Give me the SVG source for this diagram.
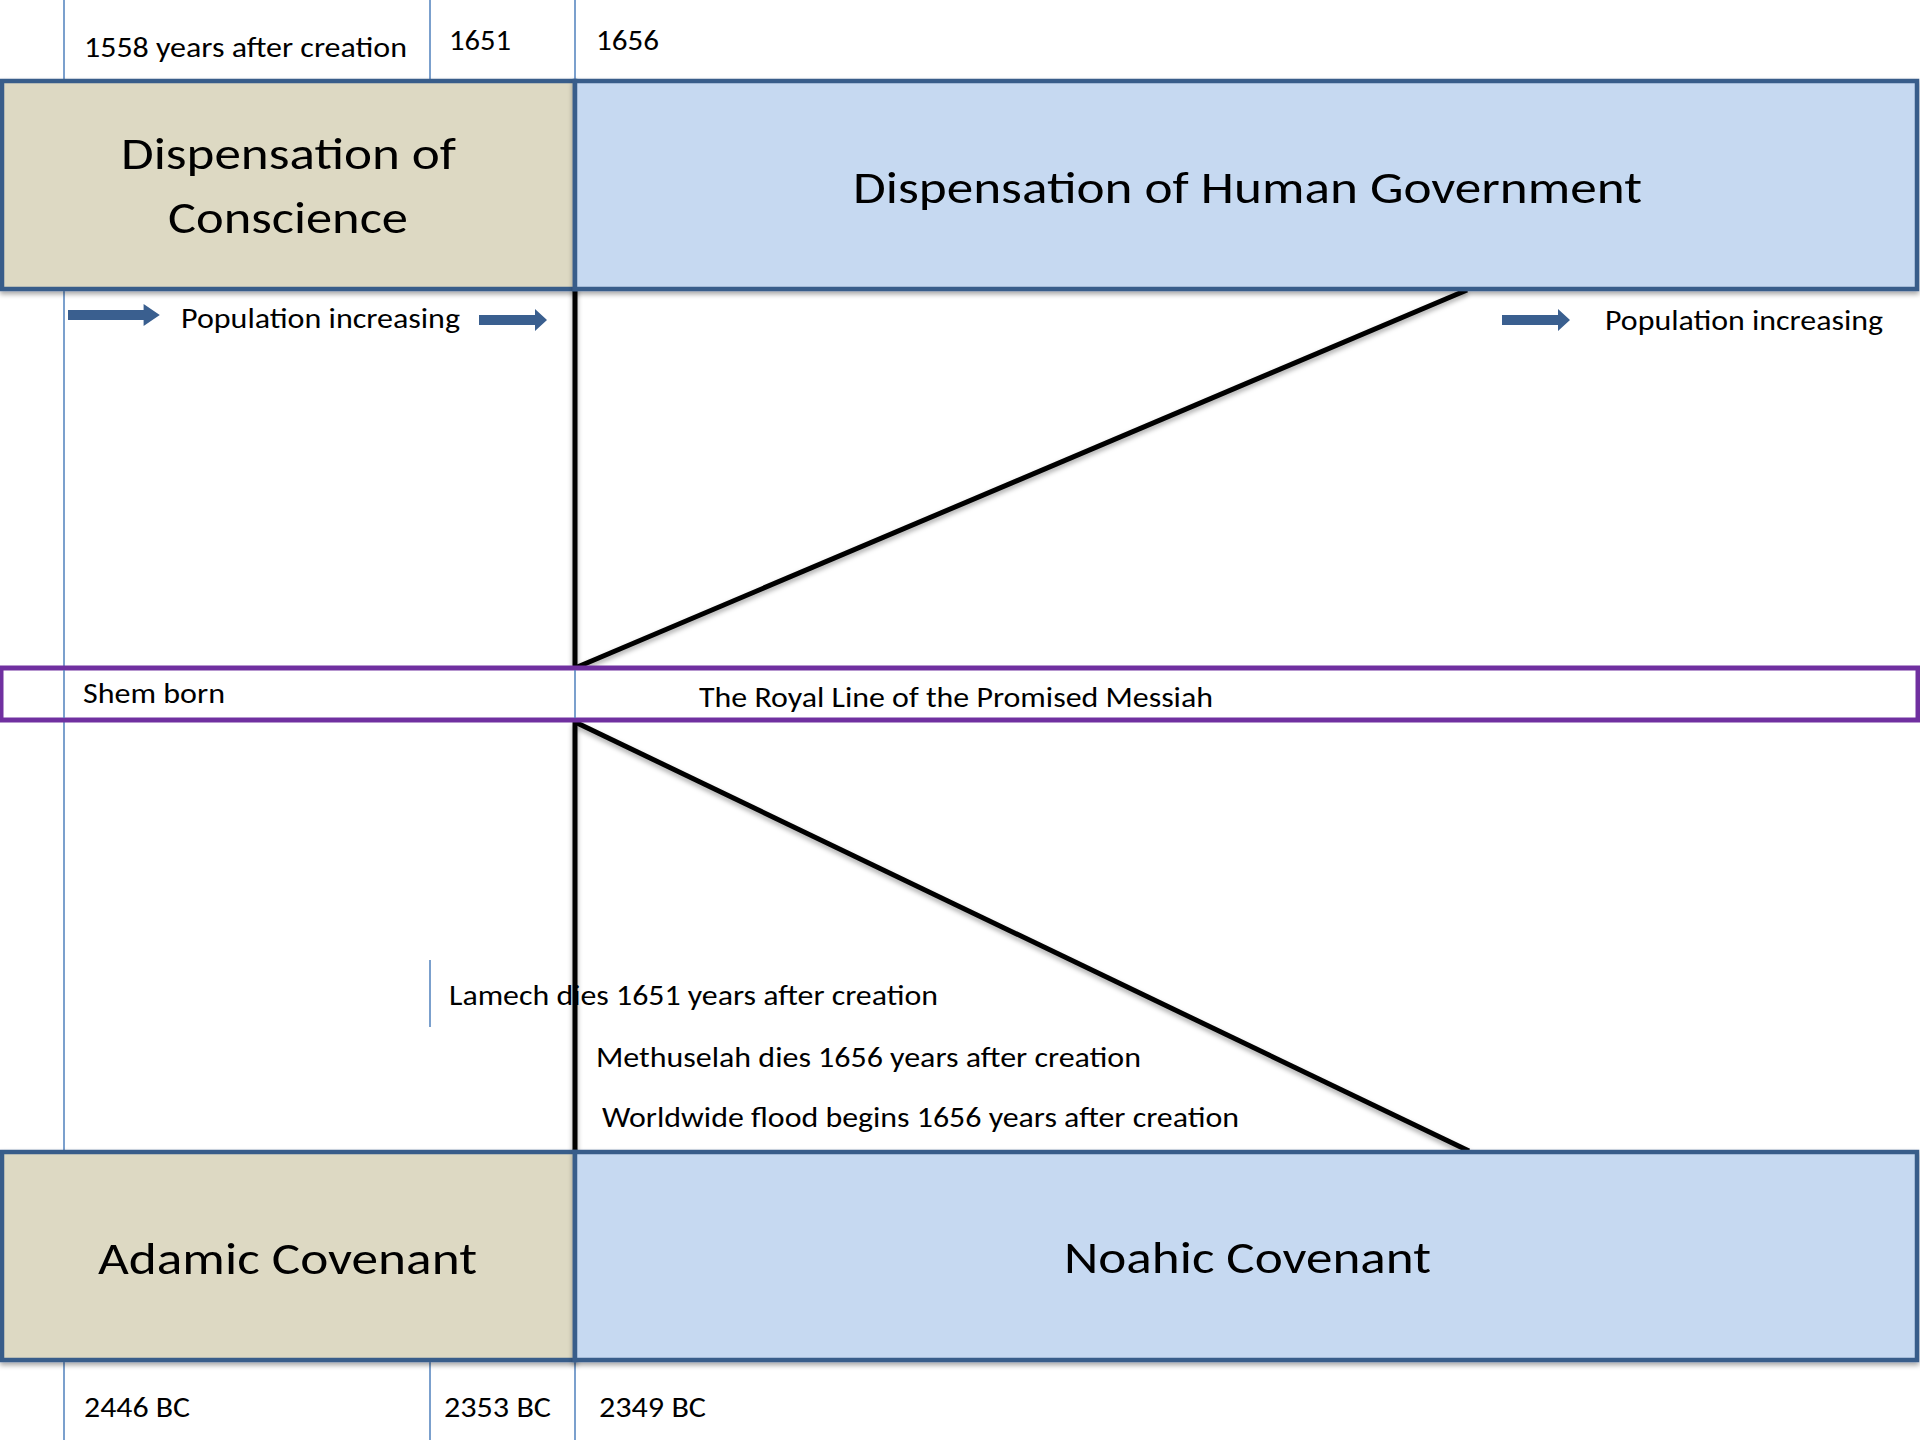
<svg xmlns="http://www.w3.org/2000/svg" width="1920" height="1440" viewBox="0 0 1920 1440">
<defs>
<style>
.t{font-family:Carlito,Lato,"Liberation Sans",sans-serif;fill:#000;}
.s{font-size:28px;}
.b{font-size:46px;}
.box{stroke:#385D8A;stroke-width:4.5;}
.tan{fill:#DDD9C3;}
.blue{fill:#C6D9F1;}
.grid{stroke:#4F81BD;stroke-width:1.5;fill:none;}
.blk{stroke:#000;stroke-width:5;fill:none;stroke-linecap:butt;}
.arr{fill:#3A5F8F;}
</style>
<filter id="sh" x="-5%" y="-5%" width="110%" height="120%">
<feDropShadow dx="0" dy="3" stdDeviation="2.5" flood-color="#000" flood-opacity="0.35"/>
</filter>
<path id="arrowShape" d="M0,-5 H56 V-11 L68,0 L56,11 V5 H0 Z"/>
</defs>
<rect width="1920" height="1440" fill="#fff"/>
<g id="gridlines">
<line class="grid" x1="64" y1="0" x2="64" y2="1440"/>
<line class="grid" x1="430" y1="0" x2="430" y2="80"/>
<line class="grid" x1="575" y1="0" x2="575" y2="80"/>
<line class="grid" x1="575" y1="668" x2="575" y2="720"/>
<line class="grid" x1="430" y1="960" x2="430" y2="1027"/>
<line class="grid" x1="430" y1="1360" x2="430" y2="1440"/>
<line class="grid" x1="575" y1="1360" x2="575" y2="1440"/>
</g>
<g id="connectors" filter="url(#sh)">
<line class="blk" x1="575" y1="290" x2="575" y2="668"/>
<line class="blk" x1="575" y1="668" x2="1467" y2="290"/>
<line class="blk" x1="575" y1="722" x2="575" y2="1151"/>
<line class="blk" x1="575" y1="722" x2="1469" y2="1151"/>
</g>
<g id="royal-line">
<rect x="1" y="668" width="1917" height="52" fill="#fff" stroke="#7030A0" stroke-width="5"/>
<line class="grid" x1="64" y1="670" x2="64" y2="718"/>
<line class="grid" x1="575" y1="670" x2="575" y2="718"/>
<text class="t s" x="83" y="703" textLength="142" lengthAdjust="spacingAndGlyphs">Shem born</text>
<text class="t s" x="699" y="707" textLength="514" lengthAdjust="spacingAndGlyphs">The Royal Line of the Promised Messiah</text>
</g>
<g id="dispensation-conscience" filter="url(#sh)">
<rect class="box tan" x="2" y="81" width="573" height="208"/>
</g>
<g id="dispensation-conscience-label">
<text class="t b" x="121" y="169" textLength="335" lengthAdjust="spacingAndGlyphs">Dispensation of</text>
<text class="t b" x="168" y="233" textLength="240" lengthAdjust="spacingAndGlyphs">Conscience</text>
</g>
<g id="dispensation-human-government" filter="url(#sh)">
<rect class="box blue" x="575" y="81" width="1342" height="208"/>
</g>
<g id="dispensation-human-government-label">
<text class="t b" x="853" y="203" textLength="789" lengthAdjust="spacingAndGlyphs">Dispensation of Human Government</text>
</g>
<g id="adamic-covenant" filter="url(#sh)">
<rect class="box tan" x="2" y="1152" width="573" height="208"/>
</g>
<g id="adamic-covenant-label">
<text class="t b" x="98" y="1274" textLength="379" lengthAdjust="spacingAndGlyphs">Adamic Covenant</text>
</g>
<g id="noahic-covenant" filter="url(#sh)">
<rect class="box blue" x="575" y="1152" width="1342" height="208"/>
</g>
<g id="noahic-covenant-label">
<text class="t b" x="1064" y="1273" textLength="367" lengthAdjust="spacingAndGlyphs">Noahic Covenant</text>
</g>
<g id="top-dates">
<text class="t s" x="84" y="57" textLength="323" lengthAdjust="spacingAndGlyphs">1558 years after creation</text>
<text class="t s" x="449" y="50" textLength="62" lengthAdjust="spacingAndGlyphs">1651</text>
<text class="t s" x="596" y="50" textLength="63" lengthAdjust="spacingAndGlyphs">1656</text>
</g>
<g id="population-left">
<use href="#arrowShape" class="arr" x="68" y="315" transform="translate(68,315) scale(1.35,1) translate(-68,-315)"/>
<text class="t s" x="181" y="328" textLength="279" lengthAdjust="spacingAndGlyphs">Population increasing</text>
<use href="#arrowShape" class="arr" x="479" y="320"/>
</g>
<g id="population-right">
<use href="#arrowShape" class="arr" x="1502" y="320"/>
<text class="t s" x="1605" y="330" textLength="278" lengthAdjust="spacingAndGlyphs">Population increasing</text>
</g>
<g id="events">
<text class="t s" x="449" y="1005" textLength="489" lengthAdjust="spacingAndGlyphs">Lamech dies 1651 years after creation</text>
<text class="t s" x="596" y="1067" textLength="545" lengthAdjust="spacingAndGlyphs">Methuselah dies 1656 years after creation</text>
<text class="t s" x="602" y="1127" textLength="637" lengthAdjust="spacingAndGlyphs">Worldwide flood begins 1656 years after creation</text>
</g>
<g id="bottom-dates">
<text class="t s" x="84" y="1417" textLength="106" lengthAdjust="spacingAndGlyphs">2446 BC</text>
<text class="t s" x="444" y="1417" textLength="107" lengthAdjust="spacingAndGlyphs">2353 BC</text>
<text class="t s" x="599" y="1417" textLength="107" lengthAdjust="spacingAndGlyphs">2349 BC</text>
</g>
</svg>
